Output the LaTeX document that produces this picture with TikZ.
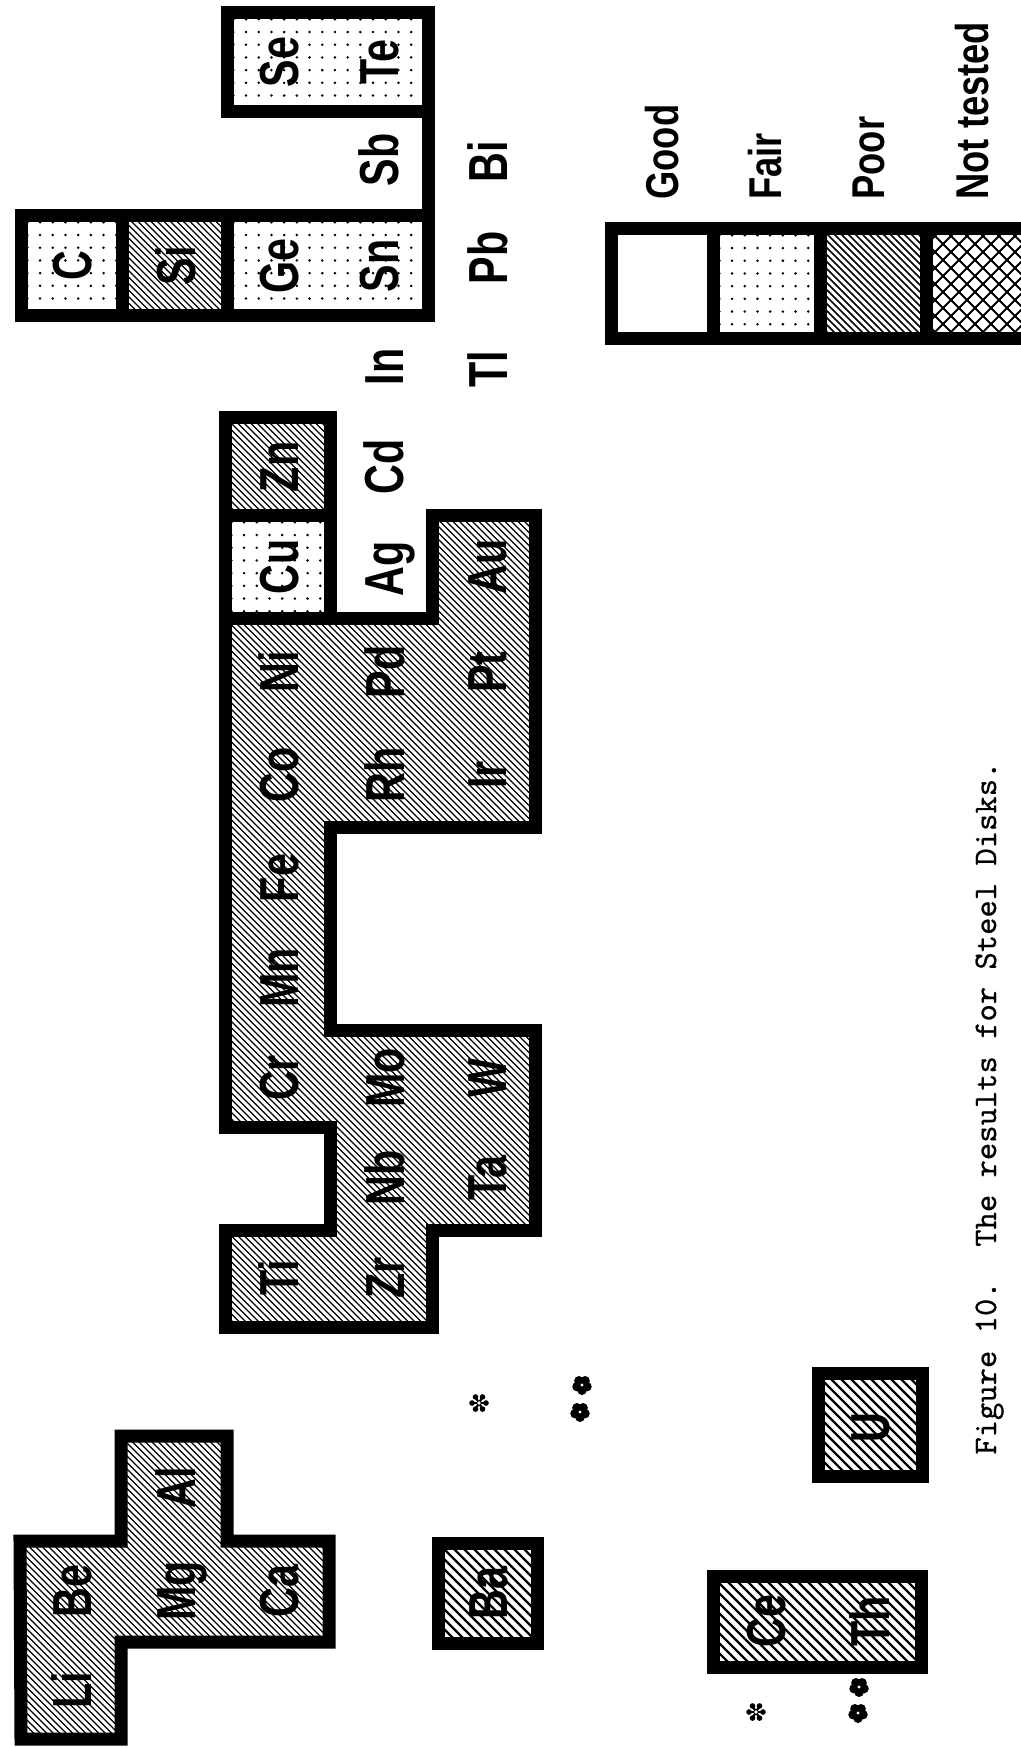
\documentclass[tikz,border=0pt]{standalone}
\usepackage{fontspec}
\newfontfamily\elfont{Liberation Sans}[FakeStretch=0.75]
\newfontfamily\lgfont{Liberation Sans}[FakeStretch=0.79]
\newfontfamily\capfont{lmmono10-regular.otf}[FakeBold=0.6]
\newcommand\hatchlines[5]{%
  \pgfmathsetmacro\hA{#1-#4}\pgfmathsetmacro\hB{#1-#4+#5}\pgfmathsetmacro\hC{#2-#3}%
  \foreach \hc in {\hA,\hB,...,\hC}{\draw (\hc+#3,#3) -- (\hc+#4,#4);}}
\newcommand\crosslines[5]{%
  \pgfmathsetmacro\hA{#1+#3}\pgfmathsetmacro\hB{#1+#3+#5}\pgfmathsetmacro\hC{#2+#4}%
  \foreach \hc in {\hA,\hB,...,\hC}{\draw (\hc-#3,#3) -- (\hc-#4,#4);}}
\newcommand\dotgrid[5]{%
  \pgfmathsetmacro\dA{#1+#5/2}\pgfmathsetmacro\dB{#1+#5*1.5}%
  \pgfmathsetmacro\dC{#3+#5/2}\pgfmathsetmacro\dD{#3+#5*1.5}%
  \foreach \dx in {\dA,\dB,...,#2}{\foreach \dy in {\dC,\dD,...,#4}{\fill (\dx,\dy) circle (1.4);}}}
\newcommand\flower[1]{\begin{scope}[shift={(#1)}]
  \foreach \a in {18,90,162,234,306}{\fill (\a:5.2) circle (4.8);}
  \fill (0,0) circle (5.7);
  \fill[white] (0,0) circle (1.6);
\end{scope}}
\newcommand\astar[1]{\begin{scope}[shift={(#1)}]
  \foreach \a in {0,60,...,300}{\draw[line width=1.1pt] (0,0) -- (\a:6); \fill (\a:7) circle (2.8);}
  \fill[white] (0,0) circle (1.8);
\end{scope}}
\begin{document}
\begin{tikzpicture}[x=0.5pt,y=-0.5pt,
  bd/.style={line width=6.5pt, line join=miter},
  hat/.style={line width=0.6pt},
  hatb/.style={line width=1.1pt},
  hatl/.style={line width=0.85pt},
  xhat/.style={line width=1.0pt},
  el/.style={font=\elfont\bfseries\fontsize{27.5}{30}\selectfont, rotate=90, inner sep=0pt, text height=20pt, text depth=0pt},
  lg/.style={font=\lgfont\bfseries\fontsize{23}{26}\selectfont, rotate=90, inner sep=0pt, text height=16.8pt, text depth=0pt, anchor=west},
  capt/.style={font=\capfont\fontsize{16.5}{18}\selectfont, rotate=90, inner sep=0pt, text height=10pt, text depth=0pt, anchor=west}]
\fill[white] (0,0) rectangle (1021,1748);
\useasboundingbox (0,0) rectangle (1021,1748);

% ---------- Li Be Mg Al Ca group ----------
\begin{scope}
  \clip (21,1739) -- (121,1739) -- (121,1642) -- (329,1642) -- (329,1541) -- (227,1541) -- (227,1436) -- (121,1436) -- (121,1541) -- (20,1541) -- cycle;
  \begin{scope}[hat]\hatchlines{20}{329}{1436}{1739}{6.5}\end{scope}
\end{scope}
\draw[bd] (21,1739) -- (121,1739) -- (121,1642) -- (329,1642) -- (329,1541) -- (227,1541) -- (227,1436) -- (121,1436) -- (121,1541) -- (20,1541) -- cycle;

% ---------- Ba ----------
\begin{scope}
  \clip (438,1543) rectangle (537,1643);
  \begin{scope}[hatb]\hatchlines{438}{537}{1543}{1643}{10}\end{scope}
\end{scope}
\draw[bd] (438,1543) rectangle (537,1643);

% ---------- main transition block ----------
\begin{scope}
  \clip (225,1327) -- (432,1327) -- (432,1230) -- (535,1230) -- (535,1030) -- (330,1030) -- (330,827) -- (535,827) -- (535,516) -- (432,516) -- (432,618) -- (330,618) -- (330,418) -- (225,418) -- (225,1127) -- (330,1127) -- (330,1230) -- (225,1230) -- cycle;
  \begin{scope}[hat]\hatchlines{225}{535}{418}{1327}{6.5}\end{scope}
\end{scope}
\fill[white] (225,516) rectangle (330,618);
\begin{scope}
  \clip (225,516) rectangle (330,618);
  \dotgrid{225}{330}{516}{618}{12.7}
\end{scope}
\draw[bd] (225,1327) -- (432,1327) -- (432,1230) -- (535,1230) -- (535,1030) -- (330,1030) -- (330,827) -- (535,827) -- (535,516) -- (432,516) -- (432,618) -- (330,618) -- (330,418) -- (225,418) -- (225,1127) -- (330,1127) -- (330,1230) -- (225,1230) -- cycle;
\draw[bd] (225,618) -- (330,618);
\draw[bd] (225,516) -- (330,516);

% ---------- C Si Ge Sn Sb Se Te ----------
\begin{scope}
  \clip (21,216) rectangle (122,316);
  \dotgrid{21}{122}{216}{316}{12.7}
\end{scope}
\begin{scope}
  \clip (122,216) rectangle (227,316);
  \begin{scope}[hat]\hatchlines{122}{227}{216}{316}{6.5}\end{scope}
\end{scope}
\begin{scope}
  \clip (227,216) rectangle (428,316);
  \dotgrid{227}{428}{216}{316}{12.7}
\end{scope}
\begin{scope}
  \clip (227,13) rectangle (428,112);
  \dotgrid{227}{428}{13}{112}{12.7}
\end{scope}
\draw[bd] (21,216) rectangle (428,316);
\draw[bd] (122,216) -- (122,316);
\draw[bd] (227,216) -- (227,316);
\draw[bd] (227,13) rectangle (428,112);
\draw[bd] (428,112) -- (428,216);

% ---------- Ce Th, U ----------
\begin{scope}
  \clip (713,1576) rectangle (921,1667);
  \begin{scope}[hatb]\hatchlines{713}{921}{1576}{1667}{10}\end{scope}
\end{scope}
\draw[bd] (713,1576) rectangle (921,1667);
\begin{scope}
  \clip (818,1373) rectangle (922,1476);
  \begin{scope}[hatb]\hatchlines{818}{922}{1373}{1476}{10}\end{scope}
\end{scope}
\draw[bd] (818,1373) rectangle (922,1476);

% ---------- legend ----------
\begin{scope}
  \clip (713,229) rectangle (820,339);
  \dotgrid{713}{820}{229}{339}{12.7}
\end{scope}
\begin{scope}
  \clip (820,229) rectangle (926,339);
  \begin{scope}[hatl]\hatchlines{820}{926}{229}{339}{7}\end{scope}
\end{scope}
\begin{scope}
  \clip (926,229) rectangle (1040,339);
  \begin{scope}[xhat]\hatchlines{926}{1040}{229}{339}{16}\crosslines{926}{1040}{229}{339}{16}\end{scope}
\end{scope}
\draw[bd] (611,229) rectangle (1040,339);
\draw[bd] (713,229) -- (713,339);
\draw[bd] (820,229) -- (820,339);
\draw[bd] (926,229) -- (926,339);
\node[lg] (lgood) at (662,200) {Good};
\node[lg] (lfair) at (765,200) {Fair};
\node[lg] (lpoor) at (868,200) {Poor};
\node[lg] (lnt) at (972,200) {Not tested};

% ---------- element labels ----------
\node[el] (Li) at (71,1690) {Li};
\node[el] (Be) at (71,1591) {Be};
\node[el] (Mg) at (175,1591) {Mg};
\node[el] (Ca) at (278,1591) {Ca};
\node[el] (Al) at (175,1488) {Al};
\node[el] (Ba) at (487,1593) {Ba};
\node[el] (Ti) at (278,1278) {Ti};
\node[el] (Zr) at (384,1278) {Zr};
\node[el] (Nb) at (384,1178) {Nb};
\node[el] (Ta) at (486,1178) {Ta};
\node[el] (Cr) at (278,1078) {Cr};
\node[el] (Mo) at (384,1078) {Mo};
\node[el] (W) at (486,1078) {W};
\node[el] (Mn) at (278,978) {Mn};
\node[el] (Fe) at (278,878) {Fe};
\node[el] (Co) at (278,775) {Co};
\node[el] (Rh) at (384,775) {Rh};
\node[el] (Ir) at (486,775) {Ir};
\node[el] (Ni) at (278,672) {Ni};
\node[el] (Pd) at (384,672) {Pd};
\node[el] (Pt) at (486,672) {Pt};
\node[el] (Cu) at (278,567) {Cu};
\node[el] (Ag) at (383,569) {Ag};
\node[el] (Au) at (486,567) {Au};
\node[el] (Zn) at (278,467) {Zn};
\node[el] (Cd) at (383,467) {Cd};
\node[el] (In) at (383,367) {In};
\node[el] (Tl) at (487,369) {Tl};
\node[el] (C) at (71,266) {C};
\node[el] (Si) at (175,266) {Si};
\node[el] (Ge) at (278,266) {Ge};
\node[el] (Sn) at (378,266) {Sn};
\node[el] (Pb) at (487,258) {Pb};
\node[el] (Sb) at (378,160) {Sb};
\node[el] (Bi) at (487,162) {Bi};
\node[el] (Se) at (278,62) {Se};
\node[el] (Te) at (378,62) {Te};
\node[el] (Ce) at (765,1621) {Ce};
\node[el] (Th) at (869,1621) {Th};
\node[el] (U) at (869,1428) {U};

% ---------- asterisks ----------
\coordinate (s1) at (479,1403);
\coordinate (d1a) at (582,1385);
\coordinate (d1b) at (580,1412);
\coordinate (s2) at (756,1712);
\coordinate (d2a) at (859,1687);
\coordinate (d2b) at (858,1713);
\astar{s1}
\flower{d1a}
\flower{d1b}
\astar{s2}
\flower{d2a}
\flower{d2b}

% ---------- caption ----------
\node[capt] (caption) at (986,1455) {Figure 10.\ \ The results for Steel Disks.};
\end{tikzpicture}
\end{document}
